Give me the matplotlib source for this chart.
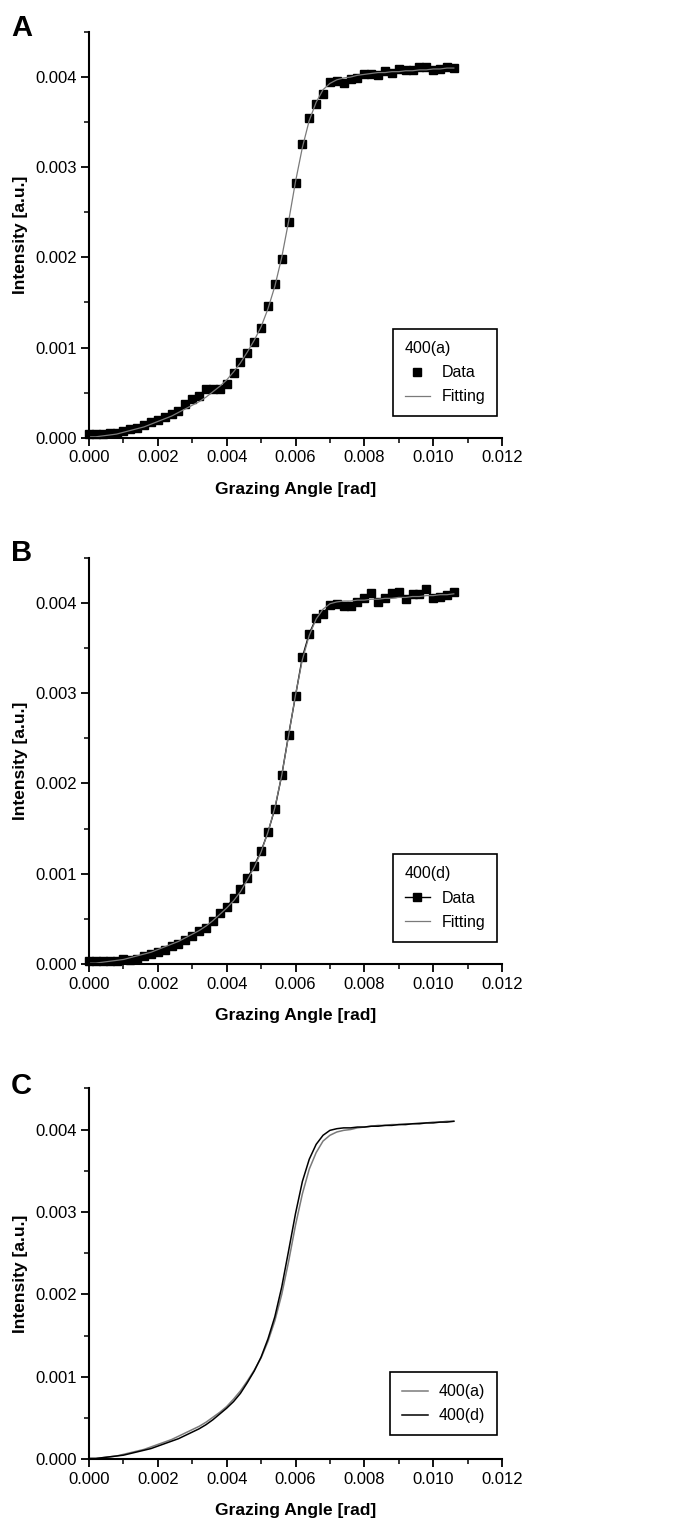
import matplotlib
matplotlib.use("Agg")
import matplotlib.pyplot as plt
from matplotlib.ticker import MultipleLocator, FormatStrFormatter

plt.rcParams['font.family'] = ['Liberation Sans', 'DejaVu Sans']

# ---- data ----
angle = [i * 0.0002 for i in range(54)]

data_a = [0.00004, 0.00004, 0.00004, 0.00005, 0.00005, 0.00007, 0.00010, 0.00011, 0.00014, 0.00017,
          0.00020, 0.00023, 0.00026, 0.00030, 0.00037, 0.00043, 0.00046, 0.00054, 0.00054, 0.00054,
          0.00060, 0.00072, 0.00084, 0.00094, 0.00106, 0.00122, 0.00146, 0.00170, 0.00198, 0.00239,
          0.00282, 0.00326, 0.00355, 0.00370, 0.00381, 0.00395, 0.00396, 0.00393, 0.00398, 0.00399,
          0.00403, 0.00403, 0.00402, 0.00407, 0.00405, 0.00409, 0.00408, 0.00408, 0.00411, 0.00411,
          0.00408, 0.00409, 0.00411, 0.00410]

data_d = [0.00003, 0.00003, 0.00003, 0.00003, 0.00003, 0.00005, 0.00004, 0.00006, 0.00009, 0.00011,
          0.00013, 0.00016, 0.00020, 0.00022, 0.00027, 0.00031, 0.00036, 0.00040, 0.00048, 0.00056,
          0.00063, 0.00073, 0.00083, 0.00095, 0.00109, 0.00125, 0.00146, 0.00172, 0.00209, 0.00254,
          0.00297, 0.00340, 0.00366, 0.00383, 0.00388, 0.00398, 0.00399, 0.00396, 0.00396, 0.00401,
          0.00405, 0.00411, 0.00401, 0.00405, 0.00411, 0.00412, 0.00404, 0.00410, 0.00410, 0.00415,
          0.00405, 0.00407, 0.00409, 0.00412]

fit_a = [0.00001, 0.00001, 0.00002, 0.00003, 0.00004, 0.00006, 0.00008, 0.00010, 0.00012, 0.00015,
         0.00018, 0.00021, 0.00024, 0.00028, 0.00032, 0.00036, 0.00040, 0.00045, 0.00051, 0.00057,
         0.00064, 0.00073, 0.00083, 0.00095, 0.00108, 0.00123, 0.00143, 0.00168, 0.00200, 0.00240,
         0.00284, 0.00322, 0.00352, 0.00372, 0.00386, 0.00393, 0.00397, 0.00399, 0.00400, 0.00402,
         0.00403, 0.00404, 0.00405, 0.00405, 0.00406, 0.00406, 0.00407, 0.00407, 0.00408, 0.00408,
         0.00409, 0.00409, 0.00410, 0.00410]

fit_d = [0.00001, 0.00001, 0.00002, 0.00003, 0.00004, 0.00005, 0.00007, 0.00009, 0.00011, 0.00013,
         0.00016, 0.00019, 0.00022, 0.00025, 0.00029, 0.00033, 0.00037, 0.00042, 0.00048, 0.00055,
         0.00062, 0.00070, 0.00080, 0.00093, 0.00107, 0.00124, 0.00146, 0.00173, 0.00209, 0.00253,
         0.00298, 0.00337, 0.00364, 0.00382, 0.00393, 0.00399, 0.00401, 0.00402, 0.00402, 0.00403,
         0.00403, 0.00404, 0.00404, 0.00405, 0.00405, 0.00406, 0.00406, 0.00407, 0.00407, 0.00408,
         0.00408, 0.00409, 0.00409, 0.00410]

xlabel = 'Grazing Angle [rad]'
ylabel = 'Intensity [a.u.]'

W, H = 674, 1521
fig = plt.figure(figsize=(W / 100, H / 100), dpi=100)

def px_axes(left, right, top, bottom):
    return fig.add_axes([left / W, 1 - bottom / H, (right - left) / W, (bottom - top) / H])

TICK_FS = 12
LAB_FS = 12.5
LEG_FS = 11.5

def style(ax):
    ax.set_xlim(0, 0.012)
    ax.set_ylim(0, 0.0045)
    for s in ('top', 'right'):
        ax.spines[s].set_visible(False)
    for s in ('left', 'bottom'):
        ax.spines[s].set_linewidth(1.5)
    ax.xaxis.set_major_locator(MultipleLocator(0.002))
    ax.xaxis.set_minor_locator(MultipleLocator(0.001))
    ax.yaxis.set_major_locator(MultipleLocator(0.001))
    ax.yaxis.set_minor_locator(MultipleLocator(0.0005))
    ax.xaxis.set_major_formatter(FormatStrFormatter('%.3f'))
    ax.yaxis.set_major_formatter(FormatStrFormatter('%.3f'))
    ax.tick_params(which='major', direction='out', length=6, width=1.3, labelsize=TICK_FS, pad=3)
    ax.tick_params(which='minor', direction='out', length=3.5, width=1.1)
    ax.set_xlabel(xlabel, fontsize=LAB_FS, fontweight='bold', labelpad=12)
    ax.set_ylabel(ylabel, fontsize=LAB_FS, fontweight='bold', labelpad=5)

def leg(ax, title, anchor):
    kw = dict(loc='lower right', bbox_to_anchor=anchor, fontsize=LEG_FS, frameon=True,
              fancybox=False, edgecolor='black', handlelength=1.6, borderpad=0.75,
              labelspacing=0.55, handletextpad=0.7, borderaxespad=0, framealpha=1)
    if title:
        kw.update(title=title, title_fontsize=LEG_FS, alignment='left')
    lg = ax.legend(**kw)
    lg.get_frame().set_linewidth(1.2)
    if title:
        lg._legend_box.sep = 7
    return lg

GRAY = '#7a7a7a'

# Panel A
axA = px_axes(89, 502, 32, 437.7)
axA.plot(angle, data_a, linestyle='none', marker='s', markersize=6.3, color='black', label='Data', clip_on=False)
axA.plot(angle, fit_a, color=GRAY, linewidth=0.9, label='Fitting')
style(axA)
leg(axA, '400(a)', (0.988, 0.053))

# Panel B
axB = px_axes(89, 502, 557.7, 964)
axB.plot(angle, data_d, linestyle='-', linewidth=1.0, marker='s', markersize=6.3, color='black', label='Data', clip_on=False)
axB.plot(angle, fit_d, color=GRAY, linewidth=0.9, label='Fitting')
style(axB)
leg(axB, '400(d)', (0.988, 0.055))

# Panel C
axC = px_axes(89, 502, 1088.3, 1459.3)
axC.plot(angle, fit_a, color=GRAY, linewidth=1.1, label='400(a)')
axC.plot(angle, fit_d, color='black', linewidth=1.1, label='400(d)')
style(axC)
leg(axC, None, (0.988, 0.065))

for letter, ytop in (('A', 14), ('B', 539), ('C', 1072)):
    fig.text(11 / W, 1 - ytop / H, letter, fontsize=21, fontweight='bold', va='top', ha='left')

fig.savefig('out.png', dpi=100)
